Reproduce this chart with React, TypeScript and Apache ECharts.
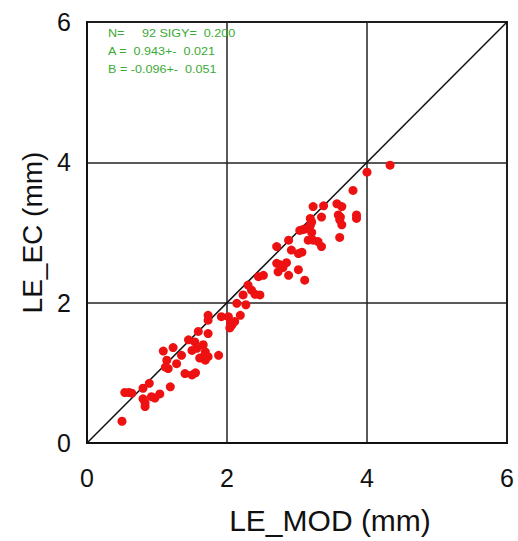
import React, { useEffect, useRef } from "react";
import * as echarts from "echarts";

const xTicks = [0, 2, 4, 6];
const modValues = [
  0.50, 0.54, 0.60, 0.64, 0.80, 0.89, 0.80, 0.83, 0.83, 0.92, 0.97, 1.04, 1.19,
  1.09, 1.23, 1.14, 1.16, 1.12, 1.28, 1.35, 1.40, 1.50, 1.55, 1.45, 1.54, 1.50,
  1.57, 1.66, 1.69, 1.65, 1.59, 1.73, 1.61, 1.69, 1.73, 1.88, 1.73, 1.73, 1.92,
  2.02, 2.07, 2.11, 2.04, 2.05, 2.19, 2.14, 2.27, 2.23, 2.35, 2.30, 2.47, 2.40,
  2.45, 2.52, 2.71, 2.88, 2.71, 2.76, 2.85, 2.73, 2.80, 2.88, 3.02, 3.11, 2.92,
  3.02, 3.07, 3.04, 3.11, 3.08, 3.19, 3.16, 3.23, 3.30, 3.35, 3.21, 3.19, 3.21,
  3.23, 3.38, 3.35, 3.57, 3.64, 3.59, 3.62, 3.61, 3.64, 3.61, 3.80, 3.85, 3.85,
  4.00, 4.33,
];
const ecValues = [
  0.31, 0.72, 0.72, 0.71, 0.78, 0.85, 0.63, 0.52, 0.57, 0.66, 0.64, 0.70, 0.80,
  1.31, 1.36, 1.18, 1.06, 1.08, 1.13, 1.25, 0.99, 0.97, 1.00, 1.47, 1.44, 1.32,
  1.35, 1.40, 1.30, 1.22, 1.59, 1.56, 1.21, 1.18, 1.23, 1.25, 1.82, 1.75, 1.80,
  1.80, 1.68, 1.73, 1.64, 1.72, 1.82, 1.99, 1.97, 2.11, 2.18, 2.25, 2.11, 2.12,
  2.37, 2.39, 2.80, 2.89, 2.56, 2.54, 2.57, 2.44, 2.50, 2.39, 2.47, 2.32, 2.75,
  2.70, 2.72, 3.03, 3.05, 3.04, 3.10, 2.89, 2.89, 2.87, 2.80, 3.00, 3.20, 3.15,
  3.37, 3.38, 3.22, 3.41, 3.37, 3.25, 3.22, 3.18, 3.11, 2.93, 3.60, 3.25, 3.20,
  3.86, 3.96,
];
const statLines = [
  "N=     92 SIGY=  0.200",
  "A =  0.943+-  0.021",
  "B = -0.096+-  0.051",
];

export default function App() {
  const ref = useRef<HTMLDivElement>(null);
  useEffect(() => {
    document.body.style.margin = "0";
    if (!ref.current) return;
    const chart = echarts.init(ref.current, null, { renderer: "svg" });
    const pts = modValues.map((x, i) => [x, ecValues[i]]);
    const font = "'Liberation Sans', Arial, Helvetica, sans-serif";
    chart.setOption({
      animation: false,
      backgroundColor: "#ffffff",
      grid: { left: 87, top: 22, right: 11, bottom: 98, show: false },
      xAxis: {
        type: "value",
        min: xTicks[0],
        max: xTicks[xTicks.length - 1],
        interval: 2,
        name: "LE_MOD (mm)",
        nameLocation: "middle",
        nameGap: 62,
        nameTextStyle: {
          fontSize: 30,
          color: "#111",
          fontFamily: font,
          padding: [0, 0, 0, 66],
        },
        axisLine: { show: true, lineStyle: { color: "#111", width: 2 } },
        axisTick: { show: false },
        axisLabel: { fontSize: 25, color: "#111", fontFamily: font, margin: 22 },
        splitLine: { show: true, lineStyle: { color: "#222", width: 1.5 } },
      },
      yAxis: {
        type: "value",
        min: xTicks[0],
        max: xTicks[xTicks.length - 1],
        interval: 2,
        name: "LE_EC (mm)",
        nameLocation: "middle",
        nameGap: 38,
        nameTextStyle: { fontSize: 28, color: "#111", fontFamily: font },
        axisLine: { show: true, lineStyle: { color: "#111", width: 2 } },
        axisTick: { show: false },
        axisLabel: { fontSize: 25, color: "#111", fontFamily: font, margin: 16 },
        splitLine: { show: true, lineStyle: { color: "#222", width: 1.5 } },
      },
      graphic: [
        {
          type: "rect",
          shape: { x: 87, y: 22, width: 420, height: 421 },
          style: { fill: "none", stroke: "#111", lineWidth: 2 },
          z: 0,
          silent: true,
        },
        ...statLines.map((t, i) => ({
          type: "text",
          x: 108,
          y: 28 + i * 18,
          scaleX: 1.2,
          style: {
            text: t,
            fill: "#3aaa35",
            fontSize: 10.5,
            fontFamily: font,
          },
          z: 10,
        })),
      ],
      series: [
        {
          type: "line",
          data: [
            [xTicks[0], xTicks[0]],
            [xTicks[xTicks.length - 1], xTicks[xTicks.length - 1]],
          ],
          symbol: "none",
          lineStyle: { color: "#111", width: 1.5 },
          z: 3,
        },
        {
          type: "scatter",
          data: pts,
          symbolSize: 9,
          itemStyle: { color: "#ee1111", opacity: 1 },
          z: 4,
        },
      ],
    });
    return () => chart.dispose();
  }, []);
  return <div ref={ref} style={{ width: 518, height: 541 }} />;
}
